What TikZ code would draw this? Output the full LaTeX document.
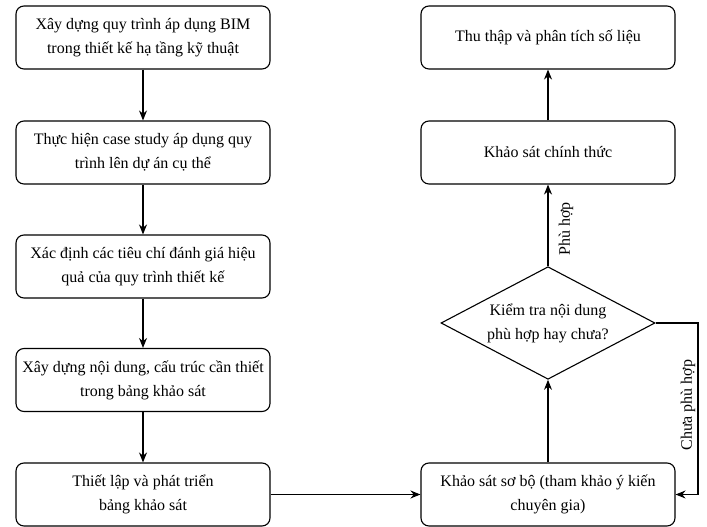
\documentclass[tikz,border=0pt]{standalone}
\usepackage{fontspec}
\setmainfont{Liberation Serif}
\usetikzlibrary{shapes.geometric,arrows.meta}

\begin{document}
\begin{tikzpicture}[x=1pt, y=1pt,
    box/.style={draw, rounded corners=8pt, line width=1.1pt, minimum width=254pt, minimum height=63pt, inner sep=0pt, align=center, font=\fontsize{16}{24}\selectfont},
    decision/.style={draw, diamond, line width=1.1pt, minimum width=214pt, minimum height=103pt, inner sep=-12pt, align=center, font=\fontsize{16}{24}\selectfont},
    flow/.style={->, >={Stealth[length=10pt,width=8pt]}, line width=1.1pt},
    tag/.style={rotate=90, font=\fontsize{16}{20}\selectfont}]
    % Fix the page size
    \useasboundingbox (0,0) rectangle (707,527);

    % Draw left column
    \node[box] (bim) at (143,489.5) {Xây dựng quy trình áp dụng BIM\\trong thiết kế hạ tầng kỹ thuật};
    \node[box] (case) at (143,374.5) {Thực hiện case study áp dụng quy\\trình lên dự án cụ thể};
    \node[box] (criteria) at (143,260.5) {Xác định các tiêu chí đánh giá hiệu\\quả của quy trình thiết kế};
    \node[box] (content) at (143,147) {Xây dựng nội dung, cấu trúc cần thiết\\trong bảng khảo sát};
    \node[box] (form) at (143,32.5) {Thiết lập và phát triển\\bảng khảo sát};

    % Draw right column
    \node[box] (analysis) at (548,489.5) {Thu thập và phân tích số liệu};
    \node[box] (official) at (548,374.5) {Khảo sát chính thức};
    \node[decision] (check) at (548,204) {Kiểm tra nội dung\\phù hợp hay chưa?};
    \node[box] (pilot) at (548,32.5) {Khảo sát sơ bộ (tham khảo ý kiến\\chuyên gia)};
    \coordinate (loopturn) at (698,204);

    % Draw arrows
    \draw[flow] (bim) -- (case);
    \draw[flow] (case) -- (criteria);
    \draw[flow] (criteria) -- (content);
    \draw[flow] (content) -- (form);
    \draw[flow] (form) -- (pilot);
    \draw[flow] (pilot) -- (check);
    \draw[flow] (check) -- (official);
    \draw[flow] (official) -- (analysis);
    \draw[flow] (check.east) -| (loopturn) |- (pilot.east);

    % Draw labels
    \node[tag] (fit) at (566,298) {Phù hợp};
    \node[tag] (nofit) at (688,122) {Chưa phù hợp};
\end{tikzpicture}
\end{document}
